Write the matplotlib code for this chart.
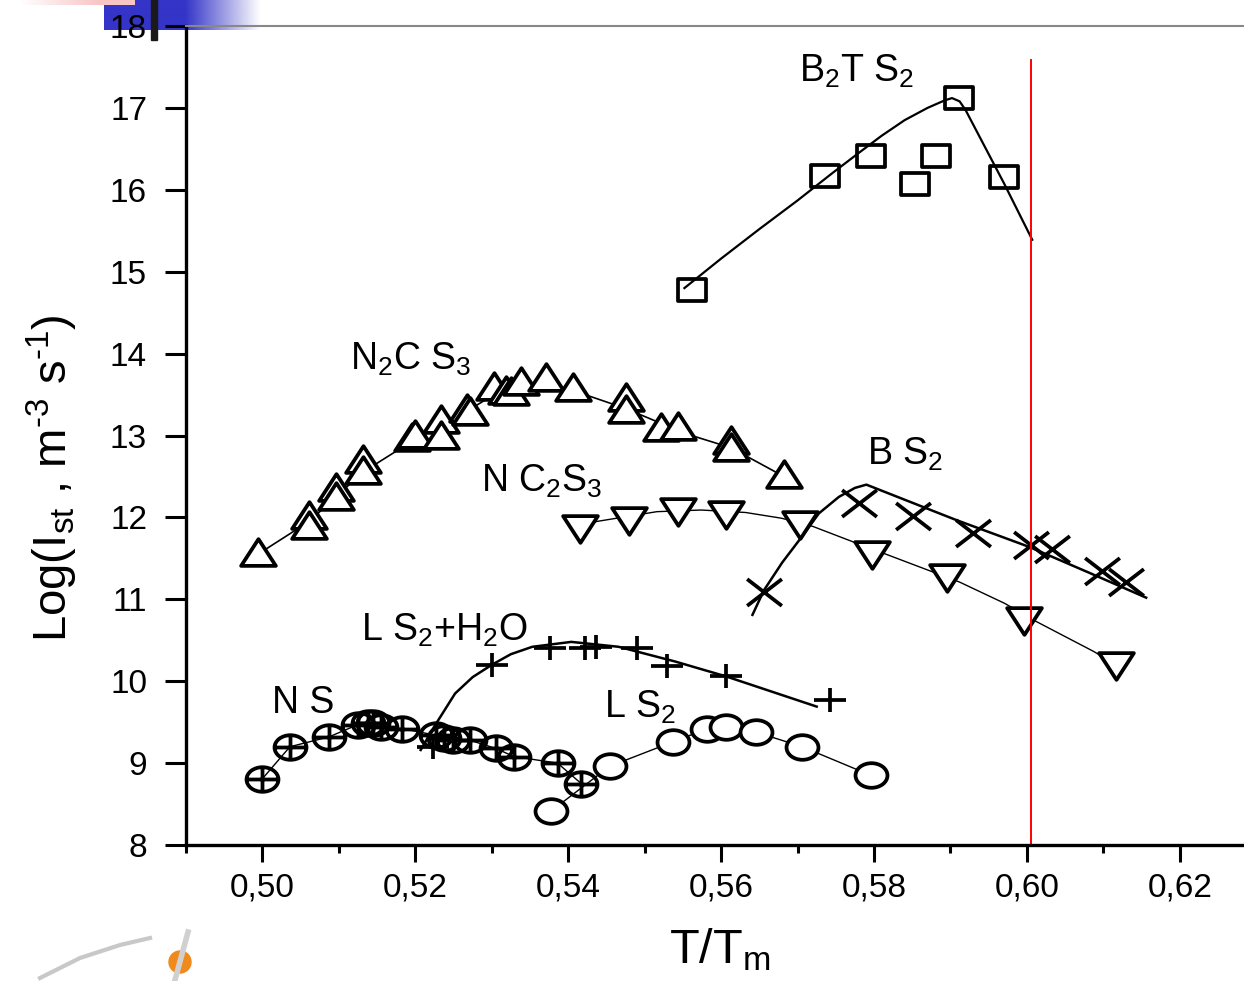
import numpy as np
import matplotlib
matplotlib.use('Agg')
import matplotlib.pyplot as plt
from matplotlib.path import Path
from matplotlib.transforms import Affine2D
from matplotlib.patches import Rectangle, Circle

plt.rcParams['font.family'] = ['Liberation Sans', 'DejaVu Sans']
plt.rcParams['mathtext.fontset'] = 'custom'
plt.rcParams['mathtext.rm'] = 'Liberation Sans'
plt.rcParams['mathtext.it'] = 'Liberation Sans:italic'
plt.rcParams['mathtext.bf'] = 'Liberation Sans:bold'

# --- data ---
b2ts2_x = [0.5562, 0.5736, 0.5796, 0.5854, 0.5881, 0.5911, 0.5970]
b2ts2_y = [14.78, 16.17, 16.41, 16.07, 16.41, 17.12, 16.16]
b2ts2_fit_x = [0.5552, 0.5600, 0.5650, 0.5700, 0.5745, 0.5780, 0.5810, 0.5840,
               0.5870, 0.5892, 0.5902, 0.5912, 0.5920, 0.5970, 0.6007]
b2ts2_fit_y = [14.80, 15.16, 15.52, 15.87, 16.20, 16.45, 16.66, 16.85,
               17.00, 17.09, 17.12, 17.08, 16.97, 16.08, 15.39]

n2cs3_x = [0.4994, 0.5061, 0.5061, 0.5096, 0.5096, 0.5131, 0.5131, 0.5195, 0.5199,
           0.5234, 0.5234, 0.5268, 0.5271, 0.5303, 0.5319, 0.5325, 0.5338, 0.5371,
           0.5406, 0.5475, 0.5475, 0.5521, 0.5544, 0.5613, 0.5613, 0.5682]
n2cs3_y = [11.58, 12.03, 11.91, 12.37, 12.26, 12.71, 12.58, 12.98, 13.02,
           13.20, 13.01, 13.34, 13.30, 13.60, 13.56, 13.54, 13.66, 13.71,
           13.59, 13.47, 13.32, 13.10, 13.12, 12.95, 12.86, 12.53]
n2cs3_fit_x = [0.4994, 0.5061, 0.5096, 0.5131, 0.5199, 0.5234, 0.5268, 0.5303,
               0.5338, 0.5371, 0.5406, 0.5475, 0.5521, 0.5544, 0.5613, 0.5682]
n2cs3_fit_y = [11.55, 11.95, 12.25, 12.55, 12.95, 13.12, 13.30, 13.50,
               13.60, 13.65, 13.55, 13.33, 13.15, 13.05, 12.85, 12.50]

nc2s3_x = [0.5415, 0.5479, 0.5543, 0.5606, 0.5703, 0.5798, 0.5895, 0.5996, 0.6117]
nc2s3_y = [11.86, 11.95, 12.07, 12.03, 11.91, 11.54, 11.26, 10.73, 10.18]
nc2s3_fit_x = [0.5415, 0.5437, 0.5516, 0.5574, 0.5632, 0.5679, 0.5720, 0.5773,
               0.5813, 0.5912, 0.5971, 0.6012, 0.6088, 0.6116]
nc2s3_fit_y = [11.88, 11.95, 12.07, 12.09, 12.06, 11.99, 11.89, 11.70,
               11.56, 11.21, 10.95, 10.73, 10.36, 10.20]

bs2_x = [0.5656, 0.5781, 0.5851, 0.5929, 0.6005, 0.6033, 0.6098, 0.6129]
bs2_y = [11.09, 12.18, 12.02, 11.81, 11.66, 11.62, 11.34, 11.21]
bs2_fit_x = [0.5641, 0.5656, 0.5680, 0.5702, 0.5728, 0.5754, 0.5775, 0.5790,
             0.5907, 0.6003, 0.6080, 0.6156]
bs2_fit_y = [10.81, 11.11, 11.45, 11.72, 12.05, 12.25, 12.36, 12.40,
             11.97, 11.64, 11.33, 11.02]

ls2h2o_x = [0.5223, 0.5300, 0.5376, 0.5422, 0.5436, 0.5490, 0.5529, 0.5606, 0.5742]
ls2h2o_y = [9.20, 10.20, 10.40, 10.40, 10.42, 10.40, 10.18, 10.06, 9.77]
ls2h2o_fit_x = [0.5207, 0.5225, 0.5252, 0.5275, 0.5300, 0.5325, 0.5353, 0.5404,
                0.5466, 0.5540, 0.5606, 0.5725]
ls2h2o_fit_y = [9.16, 9.45, 9.85, 10.05, 10.20, 10.33, 10.42, 10.48,
                10.42, 10.24, 10.06, 9.69]

ns_x = [0.5000, 0.5036, 0.5087, 0.5125, 0.5138, 0.5144, 0.5155, 0.5183,
        0.5227, 0.5238, 0.5249, 0.5271, 0.5305, 0.5329, 0.5386, 0.5417]
ns_y = [8.81, 9.20, 9.32, 9.47, 9.49, 9.49, 9.44, 9.42,
        9.34, 9.31, 9.28, 9.28, 9.18, 9.08, 9.00, 8.75]

ls2_x = [0.5377, 0.5454, 0.5537, 0.5582, 0.5606, 0.5645, 0.5706, 0.5796]
ls2_y = [8.41, 8.96, 9.26, 9.42, 9.44, 9.38, 9.20, 8.85]

tm_limit = 0.6005
xticks = [0.50, 0.52, 0.54, 0.56, 0.58, 0.60, 0.62]
xtick_labels = ['0,50', '0,52', '0,54', '0,56', '0,58', '0,60', '0,62']
yticks = [8, 9, 10, 11, 12, 13, 14, 15, 16, 17, 18]

# --- markers, squashed like the stretched original ---
ASP = 0.77
def squash(p):
    return p.transformed(Affine2D().scale(1, ASP))

sq = squash(Path.unit_rectangle().transformed(Affine2D().translate(-0.5, -0.5)))
tri_up = squash(Path([(0, 1), (-1, -1), (1, -1), (0, 1)], [1, 2, 2, 79]))
tri_dn = squash(Path([(0, -1), (-1, 1), (1, 1), (0, -1)], [1, 2, 2, 79]))
ring = squash(Path.unit_circle())
xmark = squash(Path([(-1, -1), (1, 1), (-1, 1), (1, -1)], [1, 2, 1, 2]))
pmark = squash(Path([(-1, 0), (1, 0), (0, -1), (0, 1)], [1, 2, 1, 2]))
oplus = Path.make_compound_path(ring, pmark)

W, H = 1244, 981
fig = plt.figure(figsize=(W / 100, H / 100), dpi=100)

# slide decoration behind the chart
bg = fig.add_axes([0, 0, 1, 1], zorder=0)
bg.set_xlim(0, W)
bg.set_ylim(H, 0)
bg.axis('off')
grad = np.ones((2, 156, 4))
cols = np.arange(156) + 104
grad[..., 0] = 52 / 255
grad[..., 1] = 52 / 255
grad[..., 2] = 200 / 255
grad[..., 3] = np.clip((260 - cols) / 75.0, 0, 1)
bg.imshow(grad, extent=(104, 260, 30, 0), aspect='auto', interpolation='bilinear')
pink = np.ones((2, 135, 4))
pink[..., 0] = 248 / 255
pink[..., 1] = 196 / 255
pink[..., 2] = 196 / 255
pink[..., 3] = np.clip((np.arange(135) - 20) / 80.0, 0, 1)
bg.imshow(pink, extent=(0, 135, 5, 0), aspect='auto', interpolation='bilinear')
bg.add_patch(Rectangle((151, 0), 6, 40, color='#1a1a1a'))
bg.plot([40, 80, 120, 150], [978, 958, 945, 938], color='#c8c8c8', lw=3)
bg.plot([188, 175], [932, 980], color='#d0d0d0', lw=4)
bg.add_patch(Circle((180, 962), 11, color='#f08a1c'))

ax = fig.add_axes([186 / W, 1 - 845 / H, 1 - 186 / W, (845 - 26) / H], zorder=1)
ax.patch.set_alpha(0)

mk = dict(linestyle='none', markeredgecolor='black', markeredgewidth=2.7)

# NS
ax.plot(ns_x, ns_y, color='black', lw=1.0)
ax.plot(ns_x, ns_y, marker=oplus, markersize=23, markerfacecolor='none', **mk)
# LS2
ax.plot(ls2_x, ls2_y, color='black', lw=1.0)
ax.plot(ls2_x, ls2_y, marker=ring, markersize=23, markerfacecolor='white', **mk)
# N2CS3
ax.plot(n2cs3_fit_x, n2cs3_fit_y, color='black', lw=1.2)
ax.plot(n2cs3_x, n2cs3_y, marker=tri_up, markersize=25, markerfacecolor='white', **mk)
# NC2S3
ax.plot(nc2s3_fit_x, nc2s3_fit_y, color='black', lw=1.0)
ax.plot(nc2s3_x, nc2s3_y, marker=tri_dn, markersize=25, markerfacecolor='white', **mk)
# B2TS2
ax.plot(b2ts2_x, b2ts2_y, marker=sq, markersize=20, markerfacecolor='white', **mk)
ax.plot(b2ts2_fit_x, b2ts2_fit_y, color='black', lw=1.6)
# BS2
ax.plot(bs2_fit_x, bs2_fit_y, color='black', lw=1.8)
ax.plot(bs2_x, bs2_y, marker=xmark, markersize=25, **mk)
# LS2 + H2O
ax.plot(ls2h2o_fit_x, ls2h2o_fit_y, color='black', lw=1.8)
ax.plot(ls2h2o_x, ls2h2o_y, marker=pmark, markersize=23, **mk)

ax.plot([tm_limit, tm_limit], [8, 17.58], color='red', lw=1.4)

lab = dict(fontsize=27, va='baseline', ha='left')
ax.text(0.5702, 17.32, r'B$_2$T S$_2$', **lab)
ax.text(0.5114, 13.80, r'N$_2$C S$_3$', **lab)
ax.text(0.5286, 12.31, r'N C$_2$S$_3$', **lab)
ax.text(0.5791, 12.64, r'B S$_2$', **lab)
ax.text(0.5129, 10.50, r'L S$_2$+H$_2$O', **lab)
ax.text(0.5012, 9.61, r'N S', **lab)
ax.text(0.5447, 9.55, r'L S$_2$', **lab)

ax.set_xlim(0.49, 0.6284)
ax.set_ylim(8, 18)
ax.set_xticks(xticks)
ax.set_xticklabels(xtick_labels)
ax.set_xticks(np.arange(0.49, 0.625, 0.02), minor=True)
ax.set_yticks(yticks)
ax.tick_params(axis='both', labelsize=24, width=2.2, direction='out')
ax.tick_params(axis='y', length=15, pad=13)
ax.tick_params(axis='x', length=12, pad=8)
ax.tick_params(axis='x', which='minor', length=6, width=2.2)
ax.spines['left'].set_linewidth(2.4)
ax.spines['bottom'].set_linewidth(2.4)
ax.spines['right'].set_visible(False)
ax.spines['top'].set_color('#888888')
ax.spines['top'].set_linewidth(1.5)

fig.text(52 / W, 1 - 478 / H, 'Log(I$_{\\rm st}$ , m$^{\u20103}$ s$^{\u20101}$)',
         rotation=90, fontsize=34, ha='center', va='center')
fig.text(720 / W, 1 - 950 / H, r'T/T$_{\rm m}$', fontsize=35, ha='center', va='center')

fig.savefig('out.png', dpi=100)
